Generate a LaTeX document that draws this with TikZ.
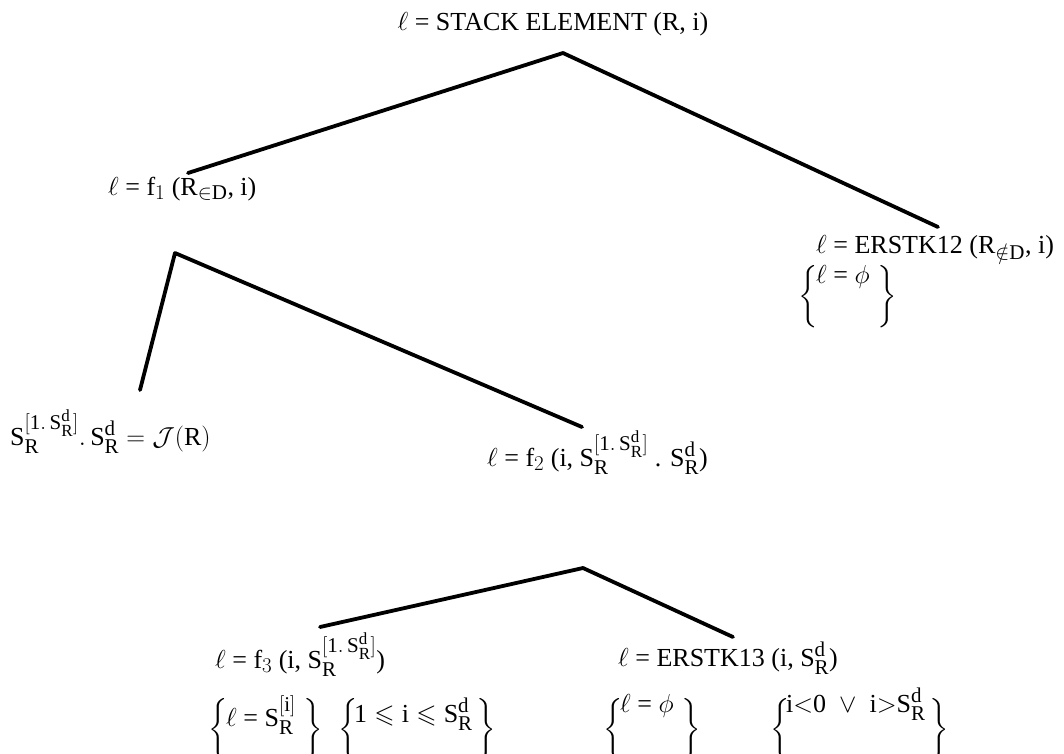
\RequirePackage{fix-cm}
\documentclass[tikz,border=0pt]{standalone}
\usepackage{amssymb}
\usepackage{fontspec}
\setmainfont{Liberation Serif}
\usetikzlibrary{calc}
\DeclareMathSizes{26}{26}{21}{17}
\newcommand{\Sd}{\mathrm{S}_{\mathrm{R}}^{\mathrm{d}}}
\newcommand{\Sarr}{\mathrm{S}_{\mathrm{R}}^{[\mathrm{1}.\,\Sd]}}
\newcommand{\LB}{\ensuremath{\left\{\rule[-22pt]{0pt}{50pt}\right.}}
\newcommand{\RB}{\ensuremath{\left.\rule[-22pt]{0pt}{50pt}\right\}}}
\begin{document}
\begin{tikzpicture}[x=1pt,y=-1pt,
  every node/.style={inner sep=0pt, font=\fontsize{26}{30}\selectfont},
  edge/.style={line width=3.8pt, line cap=round, line join=round}]
\useasboundingbox (0,0) rectangle (1064,753);
\fill[white] (0,0) rectangle (1064,753);

% labels
\node[anchor=base] (root) at (553,30) {$\ell$ = STACK ELEMENT (R, i)};
\node[anchor=base west] (f1) at (108,195) {$\ell$ = f$_1$ (R$_{\in\mathrm{D}}$, i)};
\node[anchor=base west] (e12) at (816,253) {$\ell$ = ERSTK12 (R$_{\notin\mathrm{D}}$, i)};
\node[anchor=north west] (e12l) at (798,265) {\LB};
\node[anchor=base west] (e12c) at (816,283) {$\ell$ = $\phi$};
\node[anchor=north west] (e12r) at ($(e12c.east |- e12l.north)+(6,0)$) {\RB};

\node[anchor=base west] (sr) at (10,445) {$\Sarr .\,\Sd = \mathcal{J}(\mathrm{R})$};
\node[anchor=base west] (f2) at (487,466) {$\ell$ = f$_2$ (i, $\Sarr$ . $\Sd$)};

\node[anchor=base west] (f3) at (215,668) {$\ell$ = f$_3$ (i, $\Sarr$)};
\node[anchor=base west] (e13) at (618,666) {$\ell$ = ERSTK13 (i, $\Sd$)};

% bottom conditions
\node[anchor=north west] (cAl) at (208,698) {\LB};
\node[anchor=base west] (cA) at (226,726) {$\ell$ = $\mathrm{S}_{\mathrm{R}}^{[\mathrm{i}]}$};
\node[anchor=north west] (cAr) at ($(cA.east |- cAl.north)+(6,0)$) {\RB};

\node[anchor=north west] (cBl) at (338,698) {\LB};
\node[anchor=base west] (cB) at (354,722) {$\mathrm{1}\leqslant\mathrm{i}\leqslant\Sd$};
\node[anchor=north west] (cBr) at ($(cB.east |- cBl.north)+(2,0)$) {\RB};

\node[anchor=north west] (cCl) at (603,698) {\LB};
\node[anchor=base west] (cC) at (620,712) {$\ell$ = $\phi$};
\node[anchor=north west] (cCr) at ($(cC.east |- cCl.north)+(6,0)$) {\RB};

\node[anchor=north west] (cDl) at (770,698) {\LB};
\node[anchor=base west] (cD) at (786,712) {$\mathrm{i}{<}\mathrm{0}\;\vee\;\mathrm{i}{>}\Sd$};
\node[anchor=north west] (cDr) at ($(cD.east |- cDl.north)+(2,0)$) {\RB};

% tree edges
\coordinate (a1) at (563,53);
\coordinate (a1l) at (188,173);
\coordinate (a1r) at (938,227);
\coordinate (a2) at (175,253);
\coordinate (a2l) at (140,390);
\coordinate (a2r) at (582,427);
\coordinate (a3) at (583,568);
\coordinate (a3l) at (320,627);
\coordinate (a3r) at (733,637);
\draw[edge] (a1l) -- (a1) -- (a1r);
\draw[edge] (a2l) -- (a2) -- (a2r);
\draw[edge] (a3l) -- (a3) -- (a3r);
\end{tikzpicture}
\end{document}
